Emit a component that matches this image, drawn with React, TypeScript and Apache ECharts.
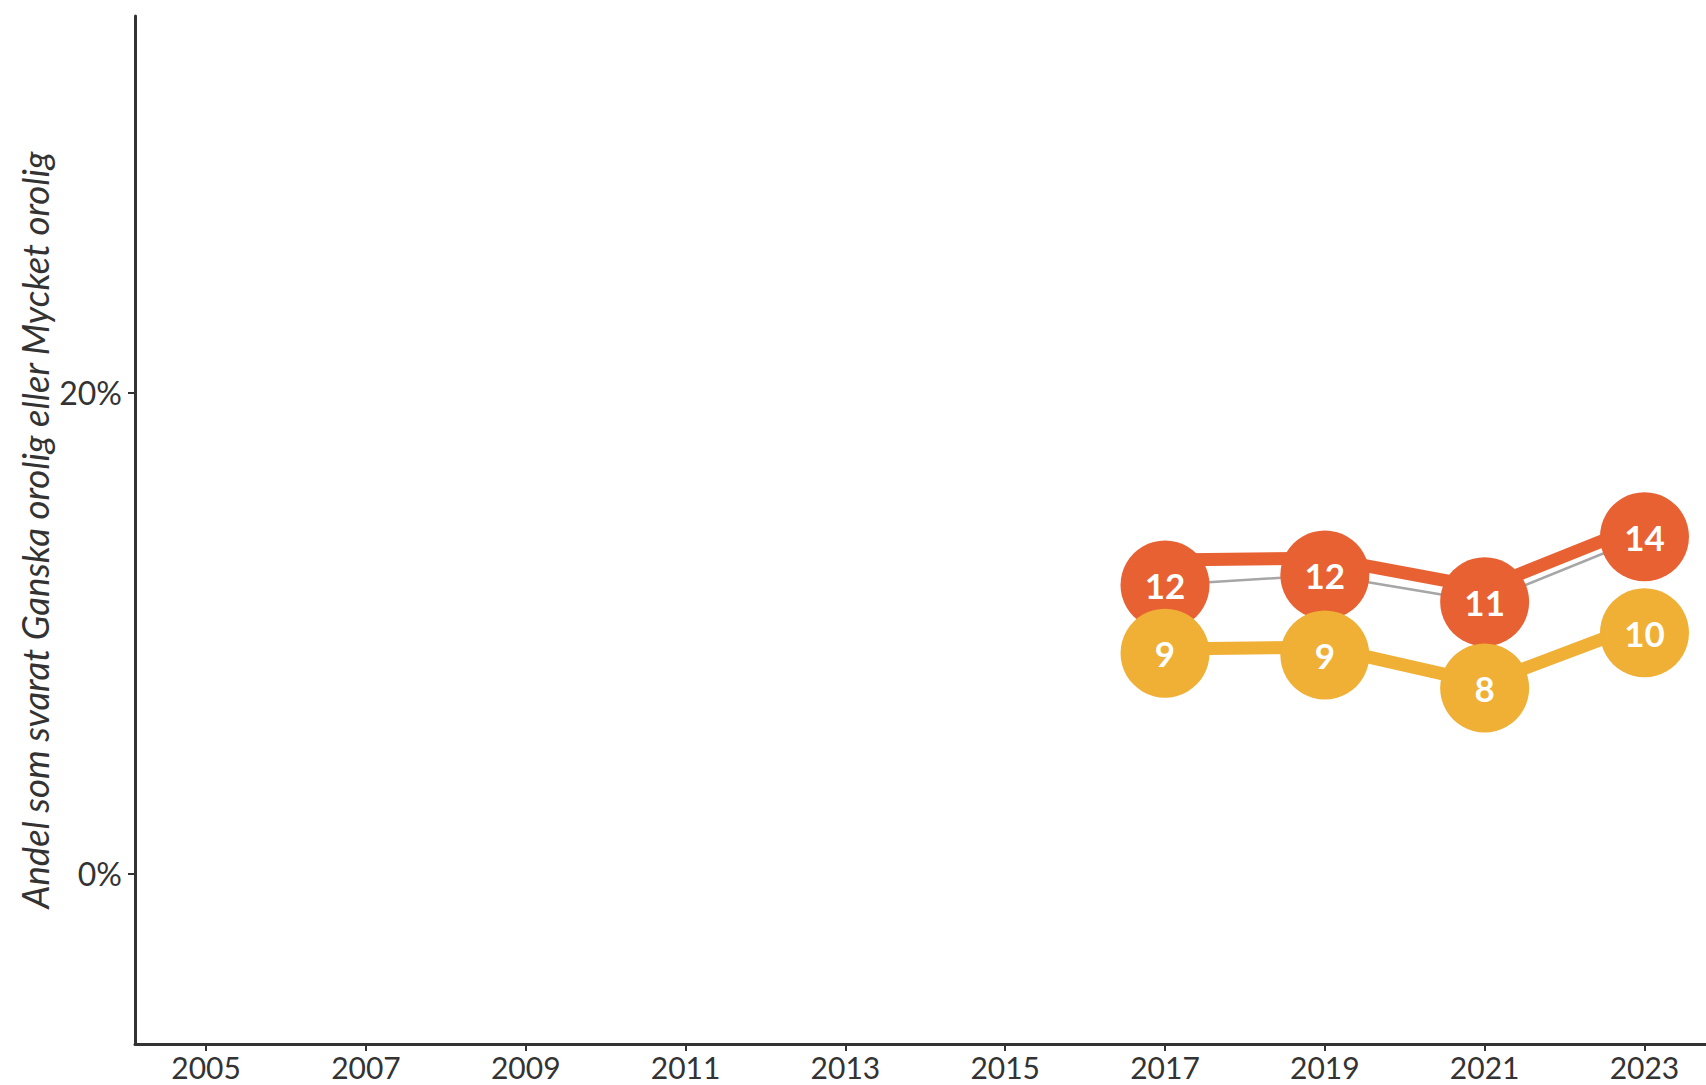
import React, { useEffect, useRef } from "react";
import * as echarts from "echarts";

const years = [2017, 2019, 2021, 2023];
const tickYears = [2005, 2007, 2009, 2011, 2013, 2015, 2017, 2019, 2021, 2023];
const yTicks = [0, 20];
const redLine = [13.05, 13.13, 11.89, 14.55];
const yellowLine = [9.35, 9.43, 7.92, 10.43];
const redLabelPos = [12.01, 12.43, 11.32, 14.02];
const yellowLabelPos = [9.18, 9.1, 7.73, 10.03];
const redLabels = ["12", "12", "11", "14"];
const yellowLabels = ["9", "9", "8", "10"];
const yTitle = "Andel som svarat Ganska orolig eller Mycket orolig";

const RED = "#E86133";
const YELLOW = "#F0AF35";
const FONT = "Lato, 'Open Sans', sans-serif";

const pairs = (vals: number[]) => years.map((y, i) => [y, vals[i]]);

export default function App() {
  const ref = useRef<HTMLDivElement>(null);
  useEffect(() => {
    document.body.style.margin = "0";
    if (!ref.current) return;
    const chart = echarts.init(ref.current, undefined, { renderer: "svg" });
    chart.setOption({
      animation: false,
      backgroundColor: "#ffffff",
      grid: { left: 135, top: 16, right: 0, bottom: 41, containLabel: false },
      xAxis: {
        type: "value",
        min: 2004.11,
        max: 2023.77,
        axisLine: { show: true, onZero: false, lineStyle: { color: "#333333", width: 3 } },
        axisTick: { show: true, customValues: tickYears, length: 7, lineStyle: { color: "#333333", width: 2 } },
        axisLabel: {
          customValues: tickYears,
          margin: 8,
          fontSize: 30,
          lineHeight: 30,
          fontFamily: FONT,
          color: "#333333",
          formatter: (v: number) => String(v),
        },
        splitLine: { show: false },
      },
      yAxis: {
        type: "value",
        min: -7.07,
        max: 35.67,
        axisLine: { show: true, onZero: false, lineStyle: { color: "#333333", width: 3 } },
        axisTick: { show: true, customValues: yTicks, length: 7, lineStyle: { color: "#333333", width: 2 } },
        axisLabel: {
          customValues: yTicks,
          margin: 13,
          fontSize: 32,
          fontFamily: FONT,
          color: "#333333",
          formatter: (v: number) => v + "%",
        },
        splitLine: { show: false },
      },
      graphic: [
        {
          type: "text",
          x: 35,
          y: 530,
          rotation: Math.PI / 2,
          style: {
            text: yTitle,
            textAlign: "center",
            textVerticalAlign: "middle",
            fontSize: 36.5,
            fontStyle: "italic",
            fontFamily: FONT,
            fill: "#333333",
          },
        },
      ],
      series: [
        {
          type: "line",
          data: pairs(redLine),
          showSymbol: false,
          lineStyle: { color: RED, width: 13 },
          z: 2,
        },
        {
          type: "line",
          data: pairs(yellowLine),
          showSymbol: false,
          lineStyle: { color: YELLOW, width: 13 },
          z: 2,
        },
        {
          type: "line",
          data: pairs(redLabelPos),
          showSymbol: false,
          lineStyle: { color: "#ffffff", width: 6 },
          z: 3,
        },
        {
          type: "line",
          data: pairs(redLabelPos),
          showSymbol: false,
          lineStyle: { color: "#a6a6a6", width: 2.5 },
          z: 4,
        },
        {
          type: "scatter",
          data: pairs(redLabelPos),
          symbolSize: 89,
          itemStyle: { color: RED, opacity: 1 },
          label: {
            show: true,
            position: "inside",
            formatter: (p: any) => redLabels[p.dataIndex],
            color: "#ffffff",
            fontWeight: "bold",
            fontSize: 35,
            fontFamily: FONT,
          },
          z: 5,
        },
        {
          type: "scatter",
          data: pairs(yellowLabelPos),
          symbolSize: 89,
          itemStyle: { color: YELLOW, opacity: 1 },
          label: {
            show: true,
            position: "inside",
            formatter: (p: any) => yellowLabels[p.dataIndex],
            color: "#ffffff",
            fontWeight: "bold",
            fontSize: 35,
            fontFamily: FONT,
          },
          z: 6,
        },
      ],
    });
    return () => chart.dispose();
  }, []);
  return <div ref={ref} style={{ width: 1706, height: 1085, overflow: "hidden" }} />;
}
